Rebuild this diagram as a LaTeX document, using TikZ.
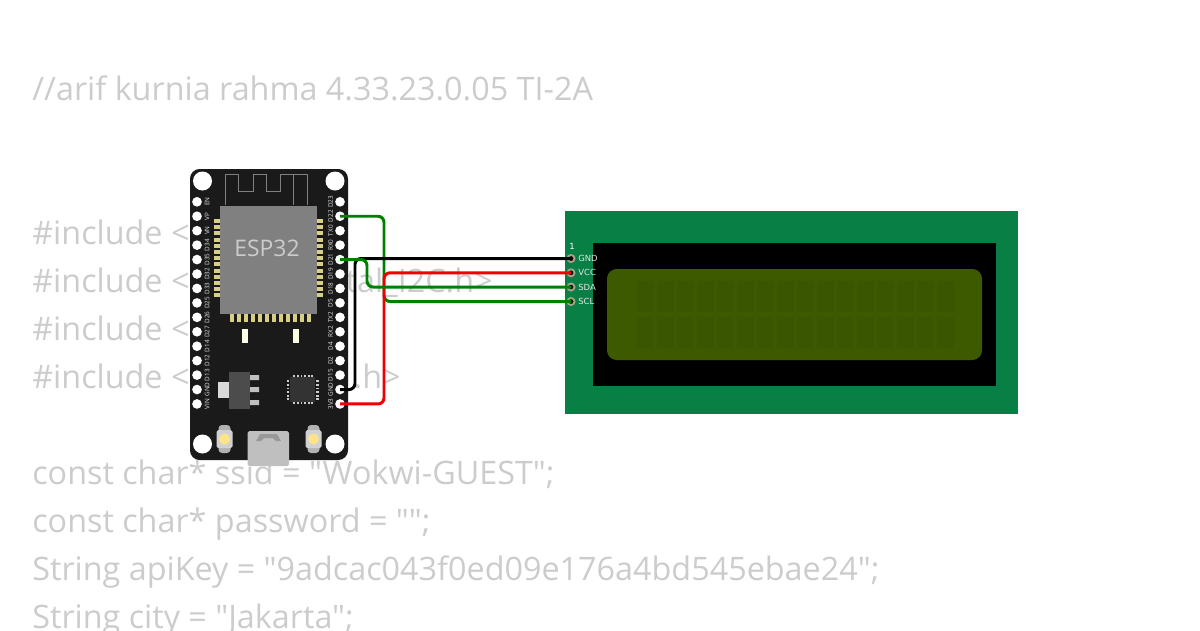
\documentclass[tikz,border=0pt]{standalone}
\usepackage{fontspec}
\newfontfamily\codefont{Open Sans}
\newfontfamily\pinfont{DejaVu Sans}
\usetikzlibrary{positioning}
\definecolor{codegray}{HTML}{CCCCCC}
\definecolor{boardblack}{HTML}{1A1A1A}
\definecolor{chipgray}{HTML}{808080}
\definecolor{padgold}{HTML}{D8CF86}
\definecolor{lcdgreen}{HTML}{087F45}
\definecolor{lcdscreen}{HTML}{3D5A00}
\definecolor{lcdcell}{HTML}{3A5600}
\definecolor{padtan}{HTML}{A89F86}
\definecolor{wirered}{HTML}{F00000}
\definecolor{wiregreen}{HTML}{007F00}
\tikzset{
    codeline/.style={anchor=base west, inner sep=0pt, text=codegray, font=\codefont\fontsize{18.4pt}{20pt}\selectfont},
    pinhole/.style={circle, fill=white, inner sep=0pt, minimum size=5.5pt},
    pinlabel/.style={rotate=90, inner sep=0pt, text=white!90!black, font=\codefont\fontsize{3.6pt}{4pt}\selectfont},
    lcdpin/.style={circle, draw=padtan, fill=black, line width=1.1pt, inner sep=0pt, minimum size=4pt},
    lcdlabel/.style={anchor=west, inner sep=0pt, text=white!90!black, font=\pinfont\fontsize{4.8pt}{5pt}\selectfont},
    wire/.style={line width=1.7pt, rounded corners=3.4pt}
}
\begin{document}
\begin{tikzpicture}[x=0.02cm, y=-0.02cm]
    \useasboundingbox (0,0) rectangle (1200,630);
    \clip (0,0) rectangle (1200,630);

    % Source text behind the parts
    \node [codeline] (title) at (32,100) {//arif kurnia rahma 4.33.23.0.05 TI-2A};
    \foreach \n/\y in {a/244,b/292,c/340,d/388}
        \node [codeline] (inc\n) at (32,\y) {\#include <};
    \node [codeline, anchor=base east] (tailb) at (493,292) {tal\_I2C.h>};
    \node [codeline, anchor=base east] (taild) at (401,388) {.h>};
    \node [codeline] (ssid) at (32,484) {const char* ssid = "Wokwi-GUEST";};
    \node [codeline] (pass) at (32,532) {const char* password = "";};
    \node [codeline] (apikey) at (32,580) {String apiKey = "9adcac043f0ed09e176a4bd545ebae24";};
    \node [codeline] (city) at (32,628) {String city = "Jakarta";};

    % ESP32 board
    \fill [boardblack, rounded corners=5.5pt] (190,169) rectangle (348,460);
    \foreach \x/\y in {202.5/181,335/181,202.5/444,335/444}
        \fill [white] (\x,\y) circle (9.5);
    \draw [chipgray, line width=0.5pt] (225,205) -- (225,174) -- (238,174) -- (238,191) -- (253,191) -- (253,174) -- (266,174) -- (266,191) -- (280,191) -- (280,174) -- (307,174) -- (307,205);
    \draw [chipgray, line width=0.5pt] (293,174) -- (293,205);

    % Pins of the board
    \foreach \t [count=\i from 0] in {EN,VP,VN,D34,D35,D32,D33,D25,D26,D27,D14,D12,D13,GND,VIN} {
        \node [pinhole] (l\i) at (197,{201.8+14.44*\i}) {};
        \node [pinlabel] (ltxt\i) at (207,{201.8+14.44*\i}) {\t};
    }
    \foreach \t [count=\i from 0] in {D23,D22,TX0,RX0,D21,D19,D18,D5,TX2,RX2,D4,D2,D15,GND,3V3} {
        \node [pinhole] (r\i) at (340,{201.8+14.44*\i}) {};
        \node [pinlabel] (rtxt\i) at (330.5,{201.8+14.44*\i}) {\t};
    }

    % Module
    \foreach \i in {0,...,12} {
        \fill [padgold] (213.5,{219+6.2*\i}) rectangle (219.5,{223+6.2*\i});
        \fill [padgold] (317,{219+6.2*\i}) rectangle (323,{223+6.2*\i});
    }
    \foreach \i in {0,...,11}
        \fill [padgold] ({230+7*\i},314) rectangle ({234+7*\i},321.5);
    \fill [chipgray] (219.5,206) rectangle (317,314);
    \node [text=white!80!black, inner sep=0pt, font=\codefont\fontsize{13pt}{14pt}\selectfont] (chip) at (267,248) {ESP32};
    \fill [white!90!yellow] (241.5,329) rectangle (247.5,343);
    \fill [white!90!yellow] (293,329) rectangle (299,343);

    % Regulator
    \fill [white!85!black] (218,381.5) rectangle (229,398);
    \fill [white!75!black] (249,375) rectangle (259,380) (249,387) rectangle (259,392) (249,400) rectangle (259,405);
    \fill [black!70] (229,372) rectangle (249.5,409);

    % Small controller
    \fill [black!80] (290,377) rectangle (315,402);
    \foreach \i in {0,...,5} {
        \fill [white!80!black] ({293.3+3.6*\i},374.5) rectangle ({295.1+3.6*\i},376.7);
        \fill [white!80!black] ({293.3+3.6*\i},402.2) rectangle ({295.1+3.6*\i},404.4);
        \fill [white!80!black] (286.5,{380.3+3.6*\i}) rectangle (288.7,{382.1+3.6*\i});
        \fill [white!80!black] (316.3,{380.3+3.6*\i}) rectangle (318.5,{382.1+3.6*\i});
    }

    % Buttons and USB
    \foreach \x in {224.5,313.5} {
        \fill [white!70!black, rounded corners=2pt] (\x-6,425) rectangle (\x+6,453);
        \fill [white!82!black, rounded corners=1pt] (\x-8,430) rectangle (\x+8,448);
        \fill [yellow!60!orange!45!white] (\x,439) circle (5.5);
    }
    \fill [white!75!black, rounded corners=1pt] (247.5,431) rectangle (289,466);
    \fill [white!60!black] (256,441) -- (260,434) -- (277,434) -- (281,441) -- (276,441) -- (273,438) -- (264,438) -- (261,441) -- cycle;

    % LCD
    \fill [lcdgreen] (565,211) rectangle (1018,414);
    \fill [black] (593,243) rectangle (996,386);
    \fill [lcdscreen, rounded corners=5.5pt] (607,269) rectangle (982,360);
    \foreach \c in {0,...,15}
        \foreach \y in {281,317}
            \fill [lcdcell] ({636.5+20*\c},\y) rectangle ({653.5+20*\c},\y+31);
    \node [lcdlabel, text=white] (first) at (569,246) {1};
    \foreach \t/\y [count=\i] in {GND/258.5,VCC/272.8,SDA/287,SCL/301.5} {
        \node [lcdpin] (lcd\t) at (571,\y) {};
        \node [lcdlabel] (txt\t) at (578,\y) {\t};
    }

    % Wires
    \draw [wire, wiregreen] (r1.center) -| (384,260) |- (lcdSCL.center);
    \draw [wire, black] (r13.center) -| (355,320) |- (lcdGND.center);
    \draw [wire, wirered] (r14.center) -| (384,340) |- (lcdVCC.center);
    \draw [wire, wiregreen] (r4.center) -| (367,270) |- (lcdSDA.center);
\end{tikzpicture}
\end{document}
